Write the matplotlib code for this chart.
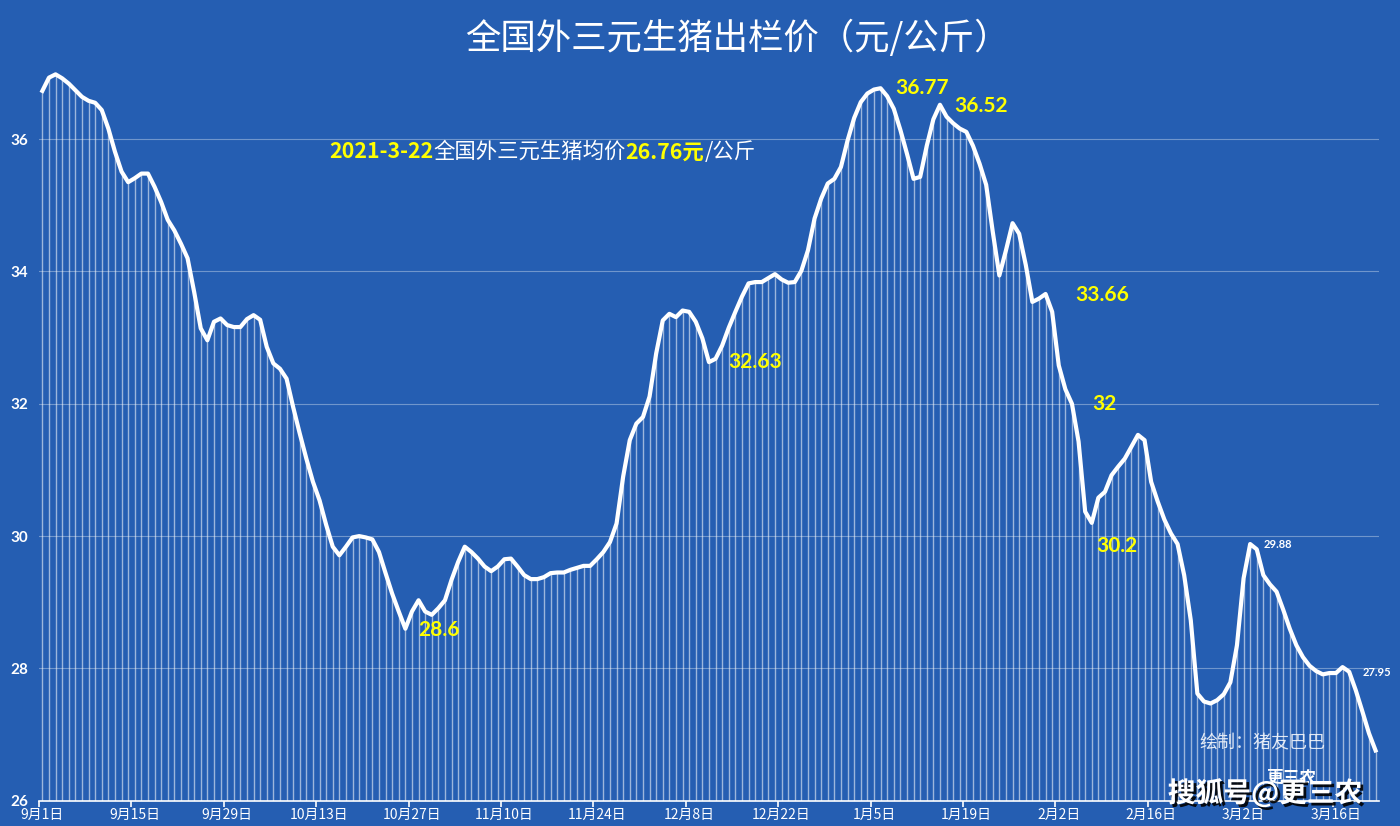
import matplotlib
matplotlib.use("Agg")
import matplotlib.pyplot as plt
import matplotlib.patheffects as pe
import numpy as np
import pandas as pd

plt.rcParams['font.family'] = ['Noto Sans CJK SC', 'DejaVu Sans']

# --- data: daily price (yuan/kg), 2020-09-01 .. 2021-03-22 ---
sep = [36.73, 36.93, 36.98, 36.92, 36.84, 36.74, 36.64, 36.58, 36.55, 36.44,
       36.16, 35.81, 35.51, 35.35, 35.41, 35.48, 35.48, 35.28, 35.05, 34.78,
       34.62, 34.42, 34.20, 33.69, 33.14, 32.96, 33.24, 33.29, 33.19, 33.16]
oct_ = [33.16, 33.28, 33.34, 33.27, 32.86, 32.61, 32.53, 32.38, 31.95, 31.55,
        31.17, 30.82, 30.54, 30.17, 29.84, 29.71, 29.84, 29.98, 30.00, 29.98,
        29.95, 29.76, 29.44, 29.13, 28.86, 28.60, 28.86, 29.03, 28.86, 28.81, 28.91]
nov = [29.03, 29.34, 29.61, 29.84, 29.76, 29.66, 29.54, 29.47, 29.54, 29.65,
       29.66, 29.54, 29.41, 29.35, 29.35, 29.38, 29.44, 29.45, 29.45, 29.49,
       29.52, 29.55, 29.55, 29.65, 29.76, 29.91, 30.19, 30.90, 31.45, 31.70]
dec = [31.80, 32.11, 32.76, 33.26, 33.36, 33.31, 33.41, 33.39, 33.24, 32.99,
       32.63, 32.68, 32.88, 33.15, 33.39, 33.62, 33.82, 33.84, 33.84, 33.90,
       33.96, 33.88, 33.83, 33.84, 34.01, 34.32, 34.80, 35.10, 35.33, 35.40, 35.58]
jan = [35.98, 36.32, 36.56, 36.69, 36.75, 36.77, 36.65, 36.46, 36.14, 35.78,
       35.40, 35.43, 35.90, 36.30, 36.52, 36.34, 36.24, 36.16, 36.11, 35.90,
       35.63, 35.31, 34.60, 33.94, 34.32, 34.73, 34.57, 34.10, 33.54, 33.59, 33.66]
feb = [33.39, 32.58, 32.22, 32.00, 31.43, 30.37, 30.20, 30.58, 30.67, 30.92,
       31.05, 31.17, 31.35, 31.53, 31.45, 30.82, 30.52, 30.25, 30.04, 29.88,
       29.41, 28.73, 27.62, 27.50, 27.47, 27.52, 27.61, 27.79]
mar = [28.35, 29.36, 29.88, 29.80, 29.41, 29.27, 29.16, 28.89, 28.60, 28.35,
       28.17, 28.04, 27.96, 27.91, 27.93, 27.93, 28.02, 27.95, 27.67, 27.35,
       27.02, 26.76]

prices = np.array(sep + oct_ + nov + dec + jan + feb + mar)
dates = pd.date_range("2020-09-01", periods=len(prices), freq="D")
days = np.arange(len(prices))
date_labels = [f"{d.month}月{d.day}日" for d in dates]

# labelled points: (text, x day, y value, colour, size)
callouts = [("28.6", 56.9, 28.58, "yellow", 15),
            ("32.63", 103.9, 32.63, "yellow", 15),
            ("36.77", 129.2, 36.77, "yellow", 15),
            ("36.52", 138.1, 36.50, "yellow", 15),
            ("33.66", 156.5, 33.64, "yellow", 15),
            ("32", 159.0, 32.00, "yellow", 15),
            ("30.2", 159.7, 29.85, "yellow", 15),
            ("29.88", 185.0, 29.87, "white", 8),
            ("27.95", 200.0, 27.94, "white", 8)]

bg = "#255EB2"
fig = plt.figure(figsize=(14, 8.26), dpi=100, facecolor=bg)
ax = fig.add_axes([0.0279, 0.0306, 0.957, 0.881], facecolor=bg)

ax.vlines(days, 26, prices, color="white", lw=1.0, alpha=0.55, zorder=2)
ax.plot(days, prices, color="white", lw=3.0, zorder=3, clip_on=False,
        solid_joinstyle="round")

ax.set_xlim(-0.5, 202.5)
ax.set_ylim(26, 37)
ax.set_yticks([26, 28, 30, 32, 34, 36])
ax.grid(axis="y", color="white", alpha=0.35, lw=0.8)
ax.set_axisbelow(True)

for s in ["top", "right", "left"]:
    ax.spines[s].set_visible(False)
ax.spines["bottom"].set_color("white")
ax.spines["bottom"].set_linewidth(1.2)
ax.spines["bottom"].set_zorder(4)

tick_idx = np.arange(0, len(prices), 14)
ax.set_xticks(tick_idx - 0.5)
ax.set_xticklabels([])
ax.set_xticks(tick_idx, minor=True)
ax.set_xticklabels([date_labels[i] for i in tick_idx], minor=True)
ax.tick_params(axis="x", which="major", length=4, color="white", width=1.2, direction="out")
ax.tick_params(axis="x", which="minor", length=0, labelcolor="white", labelsize=10, pad=5)
ax.tick_params(axis="y", length=0, labelcolor="white", pad=8)
for lab in ax.get_yticklabels():
    lab.set_fontfamily("Lato")
    lab.set_fontweight("bold")
    lab.set_fontsize(11)

for txt, x, y, col, sz in callouts:
    ax.text(x, y, txt, color=col, fontsize=sz, fontweight="bold", family="Lato",
            ha="left", va="center", zorder=5)

fig.text(0.527, 0.954, "全国外三元生猪出栏价（元/公斤）", color="white", fontsize=25.5,
         ha="center", va="center")

# subtitle with mixed colours
renderer = fig.canvas.get_renderer()
parts = [("2021-3-22", "yellow", "bold"), ("全国外三元生猪均价", "white", "normal"),
         ("26.76元", "yellow", "bold"), ("/公斤", "white", "normal")]
x_px = 329
for s, col, w in parts:
    t = fig.text(x_px / 1400, 1 - 152 / 826, s, color=col, fontsize=15.4, fontweight=w,
                 ha="left", va="center")
    x_px = t.get_window_extent(renderer).x1

fig.text(1199 / 1400, 1 - 743 / 826, "绘制：猪友巴巴", color="white", alpha=0.85,
         fontsize=13, ha="left", va="center")
fig.text(1291 / 1400, 1 - 777 / 826, "更三农", color="white", fontsize=12,
         fontweight="bold", ha="center", va="center")
fig.text(1265 / 1400, 1 - 793 / 826, "搜狐号@更三农", color="white", fontsize=20,
         fontweight="bold", ha="center", va="center", zorder=10,
         path_effects=[pe.SimplePatchShadow(offset=(2, -2), shadow_rgbFace="black", alpha=0.9),
                       pe.Normal()])

fig.savefig("out.png", dpi=100, facecolor=bg)
